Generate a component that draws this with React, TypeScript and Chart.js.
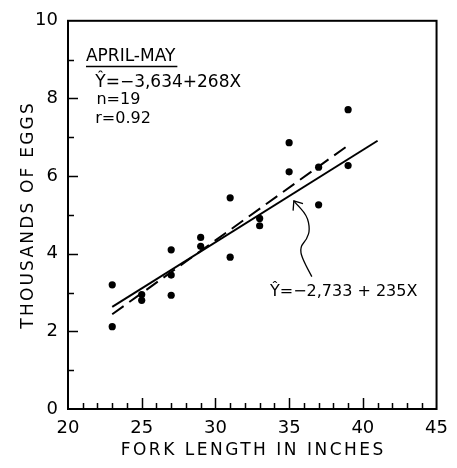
import { useEffect, useRef } from "react";
import { Chart, registerables } from "chart.js";

Chart.register(...registerables);

// Fork length (inches) and egg count (thousands) for each fish
const forkLength = [23, 23, 25, 25, 27, 27, 27, 29, 29, 31, 31, 33, 33, 35, 35, 37, 37, 39, 39];
const eggsThousands = [3.2, 2.12, 2.95, 2.8, 4.1, 3.45, 2.93, 4.42, 4.19, 5.44, 3.91, 4.91, 4.72, 6.86, 6.11, 6.23, 5.26, 7.71, 6.27];

// Regression line for all fish (solid) and April-May fish (dashed)
const fitAllX = [23, 41];
const fitAllY = [2.63, 6.91];
const fitAprMayX = [23, 39];
const fitAprMayY = [2.44, 6.79];

const xMajorTicks = [25, 30, 35, 40];
const xMinorTicks = [21, 22, 23, 24, 26, 27, 28, 29, 31, 32, 33, 34, 36, 37, 38, 39, 41, 42, 43, 44];
const yMajorTicks = [2, 4, 6, 8];
const yMinorTicks = [1, 3, 5, 7, 9];

const xTitle = "FORK LENGTH IN INCHES";
const yTitle = "THOUSANDS OF EGGS";
const legendHeading = "APRIL-MAY";
const legendLines = ["Ŷ=−3,634+268X", "n=19", "r=0.92"];
const allFitLabel = "Ŷ=−2,733 + 235X";

// arrow path (data coordinates) from label to solid line
const arrowX = [36.54, 35.87, 35.74, 36.21, 36.41, 36.21, 35.4, 35.32];
const arrowY = [3.41, 3.87, 4.17, 4.38, 4.63, 4.99, 5.32, 5.36];

const FONT = "'DejaVu Sans', sans-serif";

const overlay = {
  id: "overlay",
  afterDraw(chart: any) {
    const { ctx, chartArea: a, scales } = chart;
    const xs = scales.x;
    const ys = scales.y;
    const X = (v: number) => xs.getPixelForValue(v);
    const Y = (v: number) => ys.getPixelForValue(v);
    ctx.save();
    ctx.strokeStyle = "#000";
    ctx.fillStyle = "#000";
    // frame
    ctx.lineWidth = 2;
    ctx.strokeRect(a.left, a.top, a.right - a.left, a.bottom - a.top);
    // ticks (inward)
    ctx.lineWidth = 1.5;
    ctx.beginPath();
    xMajorTicks.forEach((t) => { const p = Math.round(X(t)) + 0.5; ctx.moveTo(p, a.bottom); ctx.lineTo(p, a.bottom - 11); });
    xMinorTicks.forEach((t) => { const p = Math.round(X(t)) + 0.5; ctx.moveTo(p, a.bottom); ctx.lineTo(p, a.bottom - 6); });
    yMajorTicks.forEach((t) => { const p = Math.round(Y(t)) + 0.5; ctx.moveTo(a.left, p); ctx.lineTo(a.left + 10, p); });
    yMinorTicks.forEach((t) => { const p = Math.round(Y(t)) + 0.5; ctx.moveTo(a.left, p); ctx.lineTo(a.left + 6, p); });
    ctx.stroke();

    // axis titles
    ctx.textBaseline = "middle";
    ctx.textAlign = "center";
    ctx.font = `17px ${FONT}`;
    (ctx as any).letterSpacing = "2.5px";
    ctx.fillText(xTitle, (a.left + a.right) / 2 + 1, 451);
    (ctx as any).letterSpacing = "2.2px";
    ctx.save();
    ctx.translate(29, (a.top + a.bottom) / 2);
    ctx.rotate(-Math.PI / 2);
    ctx.fillText(yTitle, 0, 0);
    ctx.restore();
    (ctx as any).letterSpacing = "0px";

    // legend block
    ctx.textAlign = "left";
    ctx.font = `17px ${FONT}`;
    const hx = X(21.22);
    ctx.fillText(legendHeading, hx, Y(9.07));
    const w = ctx.measureText(legendHeading).width;
    ctx.lineWidth = 1.5;
    ctx.beginPath();
    ctx.moveTo(hx, Y(8.82));
    ctx.lineTo(hx + w + 2, Y(8.82));
    ctx.stroke();
    ctx.font = `17px ${FONT}`;
    ctx.fillText(legendLines[0], X(21.85), Y(8.42));
    ctx.font = `16px ${FONT}`;
    ctx.fillText(legendLines[1], X(21.93), Y(7.97));
    ctx.fillText(legendLines[2], X(21.85), Y(7.48));

    // solid fit label
    ctx.font = `16px ${FONT}`;
    ctx.fillText(allFitLabel, X(33.7), Y(3.03));

    // arrow
    ctx.lineWidth = 1.3;
    ctx.beginPath();
    const px = arrowX.map(X);
    const py = arrowY.map(Y);
    ctx.moveTo(px[0], py[0]);
    for (let i = 1; i < px.length - 1; i++) {
      const mx = (px[i] + px[i + 1]) / 2;
      const my = (py[i] + py[i + 1]) / 2;
      ctx.quadraticCurveTo(px[i], py[i], mx, my);
    }
    ctx.lineTo(px[px.length - 1], py[py.length - 1]);
    ctx.stroke();
    const tx = px[px.length - 1];
    const ty = py[py.length - 1];
    ctx.beginPath();
    ctx.moveTo(X(35.27), Y(5.11));
    ctx.lineTo(tx, ty);
    ctx.lineTo(X(35.94), Y(5.29));
    ctx.stroke();
    ctx.restore();
  },
};

export default function App() {
  const ref = useRef<HTMLCanvasElement | null>(null);
  useEffect(() => {
    if (!ref.current) return;
    const tickFont = { family: FONT, size: 18 };
    const chart = new Chart(ref.current, {
      type: "scatter",
      data: {
        datasets: [
          {
            type: "scatter",
            data: forkLength.map((x, i) => ({ x, y: eggsThousands[i] })),
            pointRadius: 3.6,
            pointBorderWidth: 0,
            backgroundColor: "#000",
            borderColor: "#000",
            order: 0,
          } as any,
          {
            type: "line",
            data: fitAllX.map((x, i) => ({ x, y: fitAllY[i] })),
            borderColor: "#000",
            borderWidth: 2,
            pointRadius: 0,
            fill: false,
            order: 1,
          },
          {
            type: "line",
            data: fitAprMayX.map((x, i) => ({ x, y: fitAprMayY[i] })),
            borderColor: "#000",
            borderWidth: 2,
            borderDash: [14, 7],
            pointRadius: 0,
            fill: false,
            order: 2,
          },
        ],
      },
      options: {
        responsive: false,
        animation: false,
        devicePixelRatio: 1,
        layout: { padding: { left: 0, top: 16, right: 16, bottom: 0 } },
        plugins: { legend: { display: false }, tooltip: { enabled: false } },
        scales: {
          x: {
            type: "linear",
            min: 20,
            max: 45,
            afterFit: (s: any) => { s.height = 59; },
            ticks: { stepSize: 5, color: "#000", font: tickFont, padding: 9, maxRotation: 0 },
            grid: { display: false, drawTicks: false },
            border: { display: false },
          },
          y: {
            type: "linear",
            min: 0,
            max: 10,
            afterFit: (s: any) => { s.width = 68; },
            ticks: { stepSize: 2, color: "#000", font: tickFont, padding: 10 },
            grid: { display: false, drawTicks: false },
            border: { display: false },
          },
        },
      },
      plugins: [overlay],
    });
    return () => chart.destroy();
  }, []);
  return (
    <div style={{ position: "fixed", left: 0, top: 0, width: 457, height: 468, background: "#fff" }}>
      <canvas ref={ref} width={457} height={468} />
    </div>
  );
}
